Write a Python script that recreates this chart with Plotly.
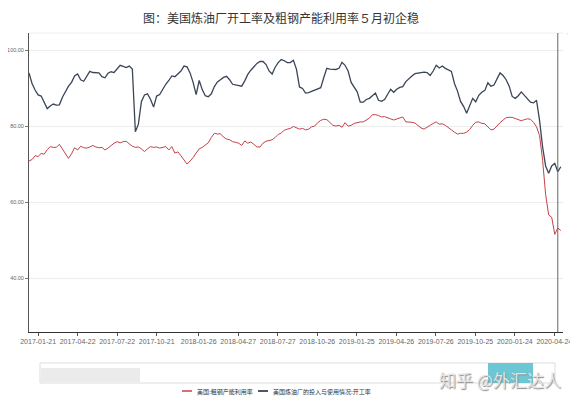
import pandas as pd
import plotly.graph_objects as go

# ---------------- data ----------------
dates = pd.date_range("2016-12-31", periods=176, freq="7D")

steel_util = [
    70.8, 71.2, 72.2, 72.0, 72.8, 72.6, 73.8, 74.6, 74.4, 74.4,
    75.2, 73.9, 72.7, 71.5, 72.7, 74.3, 73.7, 74.7, 74.3, 74.2,
    74.5, 74.9, 74.5, 74.3, 74.4, 73.7, 74.2, 74.9, 75.5, 75.9,
    75.6, 75.9, 76.0, 75.3, 74.7, 74.4, 74.5, 74.0, 73.3, 74.0,
    74.6, 74.4, 74.5, 74.2, 74.4, 74.6, 73.7, 74.6, 72.9, 73.2,
    72.2, 71.2, 70.0, 70.8, 71.7, 72.9, 74.0, 74.4, 74.9, 75.6,
    77.0, 78.1, 77.9, 78.0, 77.1, 76.6, 76.4, 75.9, 75.7, 75.5,
    74.9, 76.1, 75.5, 75.8, 75.2, 74.5, 74.5, 75.5, 76.0, 76.3,
    76.4, 77.0, 77.8, 78.2, 78.9, 79.2, 79.4, 79.9, 79.5, 79.2,
    79.4, 79.0, 79.2, 79.8, 80.0, 80.9, 81.5, 81.8, 81.7, 80.9,
    80.2, 80.0, 80.2, 79.7, 80.9, 80.0, 80.2, 80.7, 81.0, 81.1,
    81.1, 81.5, 82.1, 83.0, 83.0, 82.8, 82.4, 82.5, 82.3, 81.9,
    81.6, 81.8, 82.2, 82.4, 81.1, 81.1, 81.0, 80.8, 80.1, 79.5,
    79.2, 79.6, 80.2, 80.7, 81.1, 80.5, 80.6, 80.2, 79.5, 79.0,
    78.4, 77.9, 78.1, 78.1, 78.4, 79.1, 80.2, 81.0, 81.1, 80.7,
    80.6, 79.8, 79.0, 79.2, 80.2, 80.9, 81.6, 82.2, 82.3, 82.3,
    82.0, 81.7, 81.4, 81.7, 81.9, 81.8, 81.0, 79.8, 77.5, 71.0,
    62.0, 56.6, 56.0, 51.5, 53.2, 52.5,
]

refinery_util = [
    94.0, 91.2, 89.5, 88.2, 87.9, 86.0, 84.6, 85.3, 85.8, 85.5,
    85.6, 87.6, 89.2, 90.5, 91.5, 93.2, 93.7, 92.2, 91.8, 93.3,
    94.4, 94.1, 94.0, 94.0, 93.0, 92.7, 93.9, 94.3, 94.1, 95.2,
    96.0, 95.7, 95.4, 95.8, 95.0, 78.5, 80.5, 86.5, 88.2, 88.5,
    87.0, 85.0, 87.9, 88.3, 89.8, 91.0, 92.0, 93.2, 93.0, 93.8,
    94.5, 95.8, 95.6, 94.0, 91.5, 88.3, 92.0, 89.6, 88.0, 87.7,
    88.5, 90.4, 91.6, 92.2, 92.8, 93.1, 92.2, 91.0, 90.8, 90.7,
    90.5, 91.9, 93.6, 94.7, 95.6, 96.5, 97.0, 97.0, 96.2, 94.5,
    93.7, 95.5, 96.7, 97.5, 97.2, 96.7, 96.7, 97.3, 95.0, 90.3,
    89.9, 88.7, 88.8, 89.1, 89.4, 89.7, 90.1, 92.8, 95.2, 95.0,
    94.9, 94.9, 95.2, 96.8, 96.0, 94.5, 91.5, 90.3, 89.0, 86.3,
    86.3, 87.0, 87.3, 88.0, 88.7, 86.8, 86.5, 87.0, 88.3, 89.7,
    88.9, 89.7, 90.2, 90.4, 91.7, 92.5, 93.2, 93.8, 94.0, 94.0,
    94.2, 94.1, 93.3, 94.5, 96.0, 95.3, 95.8, 95.2, 94.8, 94.4,
    91.2, 89.2, 86.5, 85.2, 83.4, 85.5, 87.3, 86.4, 88.1, 88.9,
    89.4, 91.4, 90.5, 90.8, 92.5, 94.0, 93.3, 92.2, 90.5, 87.8,
    87.3, 88.0, 89.0, 88.0, 87.0, 86.3, 86.1, 86.8, 81.5, 74.5,
    69.5, 67.6, 69.5, 70.2, 68.0, 69.3,
]

tick_dates = [
    "2017-01-21", "2017-04-22", "2017-07-22", "2017-10-21", "2018-01-26",
    "2018-04-27", "2018-07-27", "2018-10-26", "2019-01-25", "2019-04-26",
    "2019-07-26", "2019-10-25", "2020-01-24", "2020-04-24",
]
y_ticks = [40, 60, 80, 100]

series_names = ["美国:粗钢产能利用率", "美国炼油厂的投入与使用情况:开工率"]
series_colors = ["#c4424a", "#3a4558"]
title_text = "图：美国炼油厂开工率及粗钢产能利用率５月初企稳"
watermark = "知乎 @外汇达人"
pointer_date = "2020-05-02"

# ---------------- layout helpers ----------------
# The page body has an 8px default margin, so the figure is drawn 8px
# shorter / narrower and every page-pixel position is shifted by it.
PAGE_W, PAGE_H = 578, 405
OFF = 8
W, H = PAGE_W - OFF, PAGE_H - OFF
# plot area in page pixels
PL, PR, PT, PB = 29, 563, 33, 332
ML, MR, MT, MB = PL - OFF, W - (PR - OFF), PT - OFF, H - (PB - OFF)
PW, PH = PR - PL, PB - PT


def px(xp):
    return (xp - PL) / PW


def py(yp):
    return (PB - yp) / PH


fig = go.Figure()
fig.add_trace(go.Scatter(x=dates, y=steel_util, mode="lines", name=series_names[0],
                         line=dict(color=series_colors[0], width=1.0), showlegend=False))
fig.add_trace(go.Scatter(x=dates, y=refinery_util, mode="lines", name=series_names[1],
                         line=dict(color=series_colors[1], width=1.3), showlegend=False))

narrow = "Liberation Sans Narrow, Liberation Sans, Arial, sans-serif"

fig.update_layout(
    width=W, height=H,
    margin=dict(l=ML, r=MR, t=MT, b=MB, pad=0, autoexpand=False),
    paper_bgcolor="white", plot_bgcolor="white",
    title=dict(text=title_text, x=(281 - OFF) / W, xanchor="center",
               y=1 - (19 - OFF) / H, yanchor="middle",
               font=dict(family="Noto Sans CJK SC", size=12, color="#333")),
    xaxis=dict(
        type="date", automargin=False,
        range=["2016-12-31", "2020-05-14"],
        tickvals=tick_dates, ticktext=tick_dates,
        tickfont=dict(family=narrow, size=7, color="#666"),
        ticks="outside", ticklen=3, tickcolor="#555",
        showline=True, linecolor="#333", linewidth=1,
        showgrid=False, zeroline=False,
    ),
    yaxis=dict(
        automargin=False,
        range=[25.8, 104.5],
        tickvals=y_ticks, tickformat=".2f",
        tickfont=dict(family=narrow, size=5.5, color="#666"),
        ticks="outside", ticklen=3, tickcolor="#777",
        showline=True, linecolor="#555", linewidth=1,
        showgrid=True, gridcolor="#ececec", gridwidth=1, zeroline=False,
    ),
    hovermode=False,
)

shapes = []
# faint frame top / right
shapes.append(dict(type="line", xref="paper", yref="paper", x0=0, x1=1, y0=1, y1=1,
                   line=dict(color="#eeeeee", width=1)))
shapes.append(dict(type="line", xref="paper", yref="paper", x0=px(567), x1=px(567), y0=py(35), y1=1,
                   line=dict(color="#e6e6e6", width=1)))
# axis pointer line
shapes.append(dict(type="line", xref="x", yref="paper", x0=pointer_date, x1=pointer_date, y0=0, y1=1,
                   line=dict(color="#666", width=1)))
# data-zoom slider
shapes.append(dict(type="rect", xref="paper", yref="paper", x0=px(40), x1=px(555), y0=py(383), y1=py(363),
                   line=dict(color="#dddddd", width=1), fillcolor="rgba(0,0,0,0)", layer="below"))
shapes.append(dict(type="rect", xref="paper", yref="paper", x0=px(41), x1=px(140), y0=py(382), y1=py(368),
                   line=dict(width=0), fillcolor="#ebebeb", layer="below"))
shapes.append(dict(type="rect", xref="paper", yref="paper", x0=px(488), x1=px(533), y0=py(383), y1=py(363),
                   line=dict(width=0), fillcolor="#6cc6d4", layer="below"))
# legend samples
shapes.append(dict(type="line", xref="paper", yref="paper", x0=px(182), x1=px(192), y0=py(391), y1=py(391),
                   line=dict(color=series_colors[0], width=1.5)))
shapes.append(dict(type="line", xref="paper", yref="paper", x0=px(258), x1=px(268), y0=py(391), y1=py(391),
                   line=dict(color=series_colors[1], width=1.8)))
fig.update_layout(shapes=shapes)

legend_font = dict(family="Noto Sans CJK SC", size=6, color="#333")
fig.add_annotation(xref="paper", yref="paper", x=px(195), y=py(391), xanchor="left", yanchor="middle",
                   text=series_names[0], showarrow=False, font=legend_font)
fig.add_annotation(xref="paper", yref="paper", x=px(271), y=py(391), xanchor="left", yanchor="middle",
                   text=series_names[1], showarrow=False, font=legend_font)
fig.add_annotation(xref="paper", yref="paper", x=px(500), y=py(380), xanchor="center", yanchor="middle",
                   text=watermark, showarrow=False,
                   font=dict(family="Noto Sans CJK SC", size=17, color="#e4e4e4",
                             shadow="1px 1px 1px #8a8a8a"))

fig.write_html("out.html")
